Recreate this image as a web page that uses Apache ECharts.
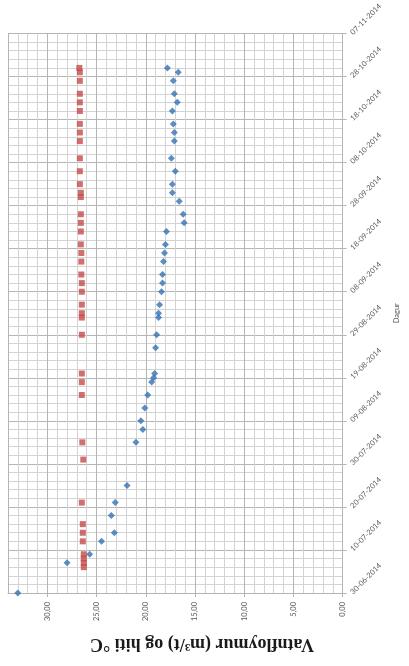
<!DOCTYPE html>
<html>
<head>
<meta charset="utf-8">
<script src="https://cdn.jsdelivr.net/npm/echarts@6/dist/echarts.min.js"></script>
<style>
html,body{margin:0;padding:0;background:#fff;}
#chart{width:409px;height:666px;}
</style>
</head>
<body>
<div id="chart"></div>
<script>
// Axis settings (dates)
const startDate = '30-06-2014';
const endDate = '07-11-2014';
const valueMax = 34;

// Series 1 (blue diamonds)
const blueDates = ['30-06-2014','07-07-2014','09-07-2014','12-07-2014','14-07-2014','18-07-2014','21-07-2014','25-07-2014',
  '04-08-2014','07-08-2014','09-08-2014','12-08-2014','15-08-2014','18-08-2014','19-08-2014','20-08-2014','26-08-2014','29-08-2014',
  '02-09-2014','03-09-2014','05-09-2014','08-09-2014','10-09-2014','12-09-2014','15-09-2014','17-09-2014','19-09-2014','22-09-2014',
  '24-09-2014','26-09-2014','29-09-2014','01-10-2014','03-10-2014','06-10-2014','09-10-2014','13-10-2014','15-10-2014','17-10-2014',
  '20-10-2014','22-10-2014','24-10-2014','27-10-2014','29-10-2014','30-10-2014'];
const blueValues = [33.0,28.0,25.7,24.5,23.2,23.5,23.1,21.9,
  21.0,20.3,20.5,20.1,19.8,19.4,19.2,19.1,19.0,18.9,
  18.7,18.7,18.6,18.4,18.3,18.3,18.2,18.1,18.0,17.9,
  16.1,16.2,16.6,17.3,17.3,17.0,17.4,17.1,17.1,17.2,
  17.3,16.8,17.1,17.2,16.7,17.8];

// Series 2 (red squares)
const redDates = ['06-07-2014','07-07-2014','08-07-2014','09-07-2014','12-07-2014','14-07-2014','16-07-2014','21-07-2014','31-07-2014',
  '04-08-2014','15-08-2014','18-08-2014','20-08-2014','29-08-2014','02-09-2014','03-09-2014','05-09-2014','08-09-2014','10-09-2014',
  '12-09-2014','15-09-2014','17-09-2014','19-09-2014','22-09-2014','24-09-2014','26-09-2014','30-09-2014','01-10-2014','03-10-2014',
  '06-10-2014','09-10-2014','13-10-2014','15-10-2014','17-10-2014','20-10-2014','22-10-2014','24-10-2014','27-10-2014','29-10-2014','30-10-2014'];
const redValues = [26.3,26.3,26.3,26.3,26.4,26.4,26.4,26.5,26.35,
  26.45,26.5,26.5,26.5,26.5,26.5,26.5,26.5,26.5,26.5,
  26.55,26.55,26.55,26.6,26.6,26.6,26.6,26.6,26.6,26.7,
  26.7,26.7,26.7,26.7,26.7,26.7,26.7,26.7,26.7,26.7,26.75];

const DAY = 86400000;
function toUTC(s){ const p = s.split('-').map(Number); return Date.UTC(p[2], p[1]-1, p[0]); }
const t0 = toUTC(startDate);
function dayIndex(s){ return (toUTC(s) - t0) / DAY; }
function pad(n){ return (n < 10 ? '0' : '') + n; }
function dayLabel(n){
  const d = new Date(t0 + Math.round(n) * DAY);
  return pad(d.getUTCDate()) + '-' + pad(d.getUTCMonth()+1) + '-' + d.getUTCFullYear();
}
const dayMax = dayIndex(endDate);

const blueData = blueDates.map((d,i) => [blueValues[i], dayIndex(d)]);
const redData = redDates.map((d,i) => [redValues[i], dayIndex(d)]);

const labelFont = 'Lato, "Liberation Sans", sans-serif';
const chart = echarts.init(document.getElementById('chart'), null, {renderer:'canvas'});
chart.setOption({
  backgroundColor: '#ffffff',
  animation: false,
  grid: {left: 8, right: 56, top: 32, bottom: 73, containLabel: false},
  xAxis: {
    type: 'value', inverse: true, position: 'bottom',
    min: 0, max: valueMax, interval: 5,
    axisLine: {show: true, lineStyle: {color: '#b5b5b5', width: 1}},
    axisTick: {show: true, length: 4, lineStyle: {color: '#b5b5b5'}},
    axisLabel: {
      rotate: 90, margin: 9, fontSize: 7.5, color: '#595959', fontFamily: labelFont,
      showMaxLabel: false,
      formatter: v => (v % 5 === 0 ? v.toFixed(2).replace('.', ',') : '')
    },
    splitLine: {show: true, lineStyle: {color: '#b5b5b5', width: 1}},
    minorTick: {show: false, splitNumber: 5},
    minorSplitLine: {show: true, lineStyle: {color: '#d3d3d3', width: 1}}
  },
  yAxis: {
    type: 'value', position: 'right',
    min: 0, max: dayMax, interval: 10,
    name: 'Dagur', nameLocation: 'middle', nameRotate: 90, nameGap: 44,
    nameTextStyle: {fontSize: 7.5, color: '#595959', fontFamily: labelFont},
    axisLine: {show: true, lineStyle: {color: '#b5b5b5', width: 1}},
    axisTick: {show: true, length: 4, lineStyle: {color: '#b5b5b5'}},
    axisLabel: {
      rotate: 45, margin: 9, fontSize: 7.5, color: '#595959', fontFamily: labelFont,
      formatter: v => dayLabel(v)
    },
    splitLine: {show: true, lineStyle: {color: '#b5b5b5', width: 1}},
    minorTick: {show: false, splitNumber: 5},
    minorSplitLine: {show: true, lineStyle: {color: '#d3d3d3', width: 1}}
  },
  graphic: [{
    type: 'text', x: 202, y: 644, rotation: Math.PI,
    style: {
      text: 'Vatnfloymur (m³/t) og hiti °C',
      font: 'bold 18px "Liberation Serif", serif',
      fill: '#1a1a1a', align: 'center', verticalAlign: 'middle'
    }
  }],
  series: [
    {
      name: 'Hiti', type: 'scatter', clip: false,
      symbol: 'diamond', symbolSize: 7,
      itemStyle: {color: '#3572b3'},
      data: blueData
    },
    {
      name: 'Vatnfloymur', type: 'scatter', clip: false,
      symbol: 'rect', symbolSize: 6,
      itemStyle: {color: '#c64a4a'},
      data: redData
    }
  ]
});
</script>
</body>
</html>
